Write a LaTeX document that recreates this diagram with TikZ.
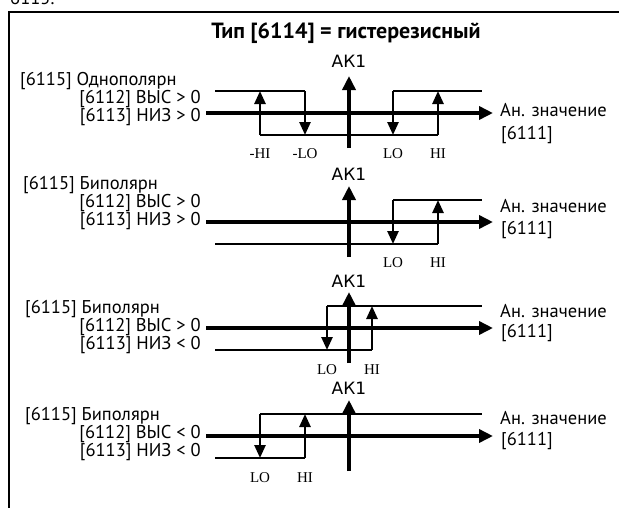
\documentclass[tikz,border=0pt]{standalone}
\usepackage{fontspec}
\setmainfont{PT Sans}
\newfontfamily\akfont{DejaVu Sans}
\newfontfamily\tickfont{Liberation Serif}
\usetikzlibrary{arrows.meta, positioning}

\begin{document}
\begin{tikzpicture}[x=1pt, y=-1pt,
    txt/.style={font=\fontsize{18.5}{20}\selectfont, inner sep=0pt},
    ttl/.style={font=\bfseries\fontsize{22}{24}\selectfont, inner sep=0pt},
    ak/.style={font=\akfont\fontsize{17}{19}\selectfont, inner sep=0pt},
    tck/.style={font=\tickfont\fontsize{15}{17}\selectfont, inner sep=0pt},
    axis/.style={line width=4pt, -{Triangle[length=14pt, width=13pt]}},
    sw/.style={line width=2.6pt, -{Triangle[length=13pt, width=11pt]}},
    lvl/.style={line width=1.3pt},
    frm/.style={line width=2.5pt},
  ]
  \useasboundingbox (0,0) rectangle (619,507);
  \clip (0,0) rectangle (619,507);

  % frame and heading
  \coordinate (fb) at (9,512);
  \coordinate (fc) at (9,12);
  \coordinate (fr) at (625,12);
  \draw[frm] (fb) -- (fc) -- (fr);
  \node[txt, anchor=base west] (sec) at (10,4) {6115.};
  \node[ttl] (title) at (346,33) {Тип [6114] = гистерезисный};

  % panel 1: unipolar
  \node[ak] (ak1) at (349,61) {АК1};
  \node[txt, anchor=west] (pol1) at (20,81) {[6115] Однополярн};
  \node[txt, anchor=east] (hi1) at (201,99) {[6112] ВЫС > 0};
  \node[txt, anchor=east] (lo1) at (201,117) {[6113] НИЗ > 0};
  \node[txt, anchor=west] (val1) at (500,110) {Ан. значение};
  \node[txt, anchor=west] (par1) at (501,135) {[6111]};
  \node[tck] (mhi1) at (260,154) {-HI};
  \node[tck] (mlo1) at (305,154) {-LO};
  \node[tck] (lo1t) at (393,154) {LO};
  \node[tck] (hi1t) at (438,154) {HI};
  \coordinate (t1l) at (215,91);
  \coordinate (t1r) at (482,91);
  \coordinate (m1l) at (305,91);
  \coordinate (m1r) at (393,91);
  \coordinate (b1l) at (260,135);
  \coordinate (b1r) at (438,135);
  \draw[lvl] (t1l) -- (m1l);
  \draw[lvl] (m1r) -- (t1r);
  \draw[lvl] (b1l) -- (b1r);
  \draw[sw] (b1l) -- (b1l |- t1l);
  \draw[sw] (m1l) -- (m1l |- b1l);
  \draw[sw] (m1r) -- (m1r |- b1l);
  \draw[sw] (b1r) -- (b1r |- t1l);
  \coordinate (x1s) at (206,113);
  \coordinate (x1e) at (493,113);
  \coordinate (y1s) at (349,148);
  \coordinate (y1e) at (349,76);
  \draw[axis] (x1s) -- (x1e);
  \draw[axis] (y1s) -- (y1e);

  % panel 2: bipolar, both > 0
  \node[ak] (ak2) at (349,174) {АК1};
  \node[txt, anchor=west] (pol2) at (23,185) {[6115] Биполярн};
  \node[txt, anchor=east] (hi2) at (201,203) {[6112] ВЫС > 0};
  \node[txt, anchor=east] (lo2) at (201,221) {[6113] НИЗ > 0};
  \node[txt, anchor=west] (val2) at (500,206) {Ан. значение};
  \node[txt, anchor=west] (par2) at (501,230) {[6111]};
  \node[tck] (lo2t) at (393,263) {LO};
  \node[tck] (hi2t) at (438,263) {HI};
  \coordinate (t2l) at (393,200);
  \coordinate (t2r) at (482,200);
  \coordinate (b2l) at (215,244);
  \coordinate (b2r) at (438,244);
  \draw[lvl] (t2l) -- (t2r);
  \draw[lvl] (b2l) -- (b2r);
  \draw[sw] (t2l) -- (t2l |- b2l);
  \draw[sw] (b2r) -- (b2r |- t2l);
  \coordinate (x2s) at (206,222);
  \coordinate (x2e) at (493,222);
  \coordinate (y2s) at (349,257);
  \coordinate (y2e) at (349,186);
  \draw[axis] (x2s) -- (x2e);
  \draw[axis] (y2s) -- (y2e);

  % panel 3: bipolar, HI > 0, LO < 0
  \node[ak] (ak3) at (349,281) {АК1};
  \node[txt, anchor=west] (pol3) at (25,309) {[6115] Биполярн};
  \node[txt, anchor=east] (hi3) at (201,327) {[6112] ВЫС > 0};
  \node[txt, anchor=east] (lo3) at (201,345) {[6113] НИЗ < 0};
  \node[txt, anchor=west] (val3) at (500,311) {Ан. значение};
  \node[txt, anchor=west] (par3) at (501,333) {[6111]};
  \node[tck] (lo3t) at (327,370) {LO};
  \node[tck] (hi3t) at (372,370) {HI};
  \coordinate (t3l) at (327,306);
  \coordinate (t3r) at (482,306);
  \coordinate (b3l) at (215,350);
  \coordinate (b3r) at (372,350);
  \draw[lvl] (t3l) -- (t3r);
  \draw[lvl] (b3l) -- (b3r);
  \draw[sw] (t3l) -- (t3l |- b3l);
  \draw[sw] (b3r) -- (b3r |- t3l);
  \coordinate (x3s) at (206,328);
  \coordinate (x3e) at (493,328);
  \coordinate (y3s) at (349,363);
  \coordinate (y3e) at (349,292);
  \draw[axis] (x3s) -- (x3e);
  \draw[axis] (y3s) -- (y3e);

  % panel 4: bipolar, both < 0
  \node[ak] (ak4) at (349,388) {АК1};
  \node[txt, anchor=west] (pol4) at (25,416) {[6115] Биполярн};
  \node[txt, anchor=east] (hi4) at (201,434) {[6112] ВЫС < 0};
  \node[txt, anchor=east] (lo4) at (201,452) {[6113] НИЗ < 0};
  \node[txt, anchor=west] (val4) at (500,418) {Ан. значение};
  \node[txt, anchor=west] (par4) at (501,441) {[6111]};
  \node[tck] (lo4t) at (260,478) {LO};
  \node[tck] (hi4t) at (305,478) {HI};
  \coordinate (t4l) at (260,414);
  \coordinate (t4r) at (482,414);
  \coordinate (b4l) at (215,458);
  \coordinate (b4r) at (305,458);
  \draw[lvl] (t4l) -- (t4r);
  \draw[lvl] (b4l) -- (b4r);
  \draw[sw] (t4l) -- (t4l |- b4l);
  \draw[sw] (b4r) -- (b4r |- t4l);
  \coordinate (x4s) at (206,436);
  \coordinate (x4e) at (493,436);
  \coordinate (y4s) at (349,471);
  \coordinate (y4e) at (349,400);
  \draw[axis] (x4s) -- (x4e);
  \draw[axis] (y4s) -- (y4e);
\end{tikzpicture}
\end{document}
